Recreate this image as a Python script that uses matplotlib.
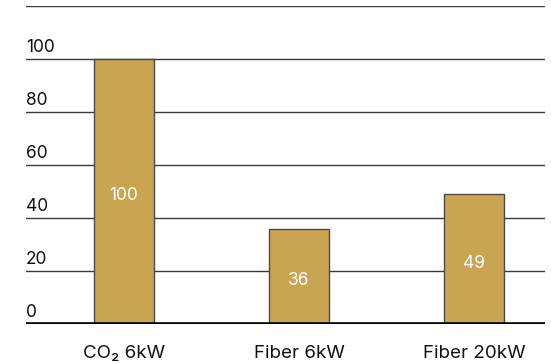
import numpy as np
import matplotlib.pyplot as plt

plt.rcParams['font.family'] = ['Inter', 'DejaVu Sans']

categories = ["CO₂ 6kW", "Fiber 6kW", "Fiber 20kW"]
values = [100, 36, 49]
yticks = [0, 20, 40, 60, 80, 100]

fig = plt.figure(figsize=(5.51, 3.64), dpi=100)
ax = fig.add_axes([0.0472, 0.1099, 0.9418, 0.8736])

x = np.arange(len(categories))
ax.set_xlim(-0.56, 2.406)
ax.set_ylim(0, 120)

# gridlines (incl. the unlabeled top one at 120)
for t in yticks[1:] + [120]:
    ax.axhline(t, color="#3a3a3a", lw=1.0, zorder=1)
ax.axhline(0, color="black", lw=2.6, zorder=4)

bars = ax.bar(x, values, width=0.343, color="#C9A551", edgecolor="#4a4a4a",
              linewidth=1.0, zorder=3)

for xi, v in zip(x, values):
    ax.text(xi, v / 2 - 1.6, str(v), ha="center", va="center", color="white",
            fontsize=12.5, zorder=5)

trans = ax.get_yaxis_transform()
for t in yticks:
    ax.text(0.0, t + 1.2, str(t), transform=trans, ha="left", va="bottom",
            fontsize=12.5, color="#111111")

ax.set_xticks(x)
ax.set_xticklabels(categories, fontsize=13.5, color="#111111")
ax.tick_params(axis="x", length=0, pad=15)
ax.set_yticks([])
for s in ax.spines.values():
    s.set_visible(False)

fig.savefig("out.png", dpi=100)
